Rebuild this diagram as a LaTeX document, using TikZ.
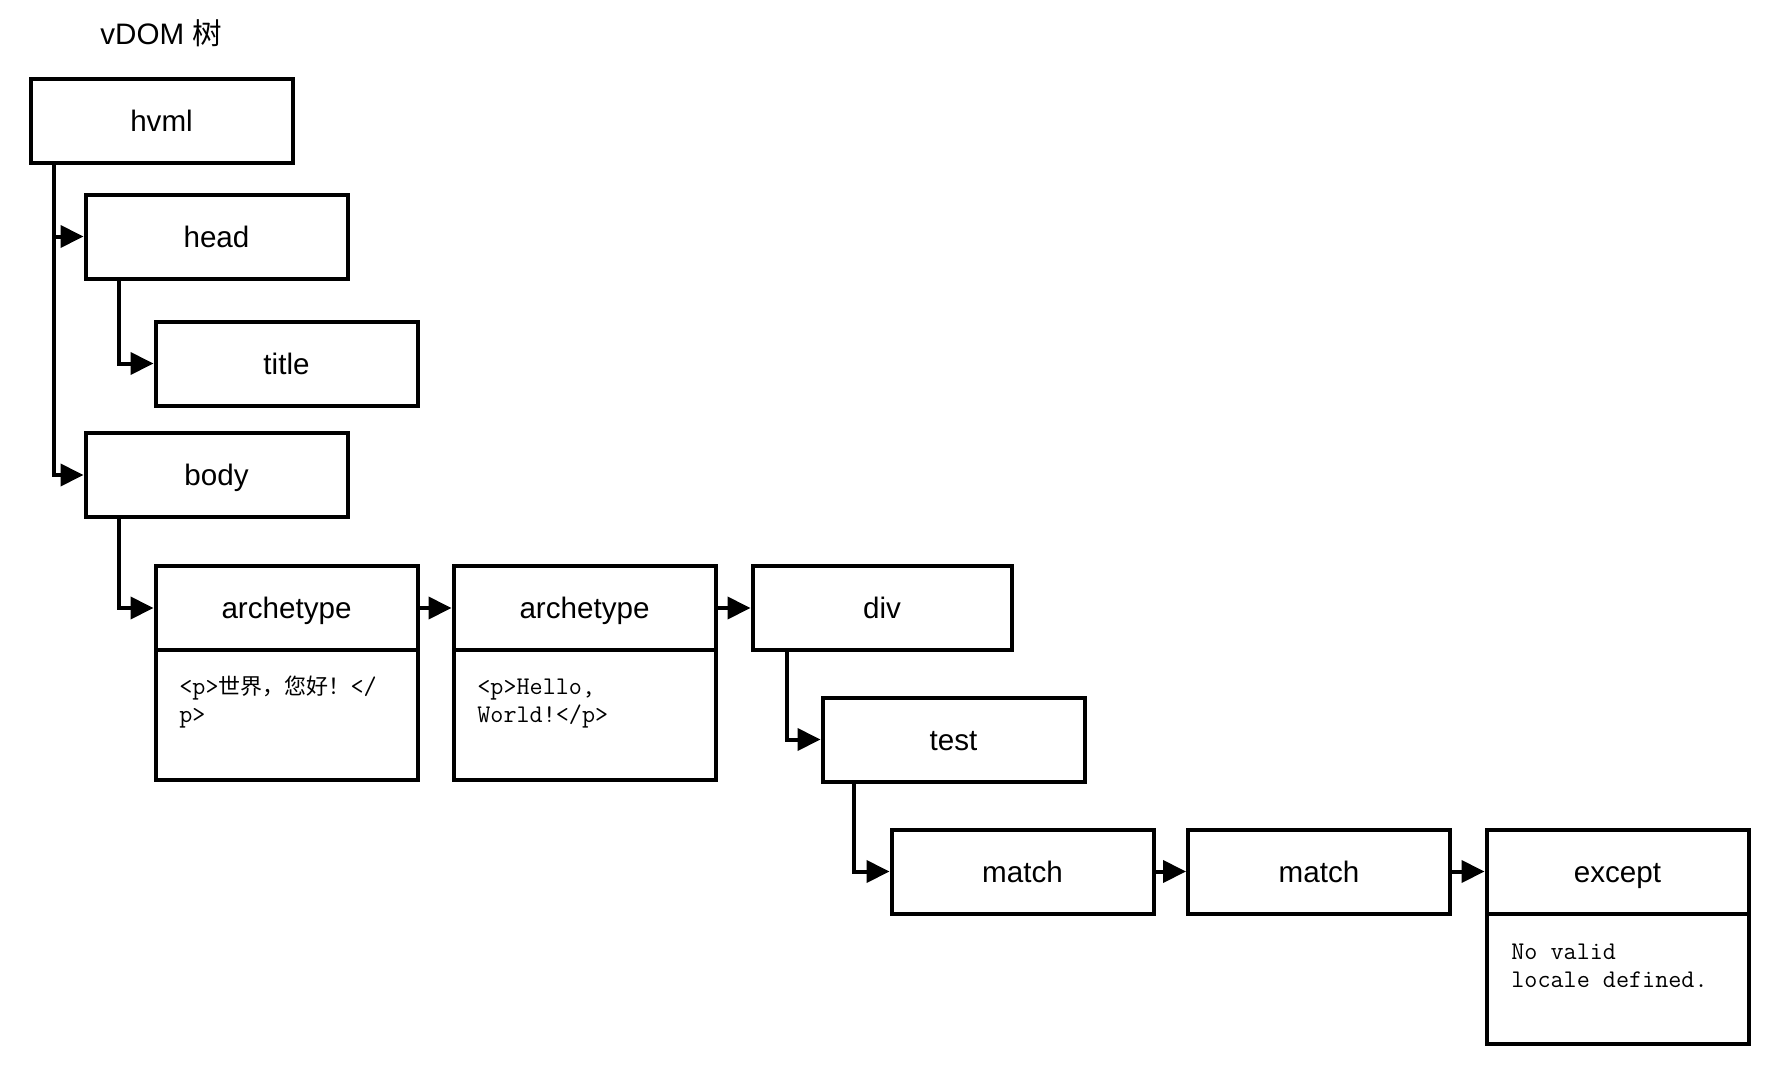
\documentclass[tikz,border=0pt]{standalone}
\usepackage{fontspec}
\setmainfont{Liberation Sans}
\newfontfamily\cjk{Noto Sans CJK SC}
\usetikzlibrary{arrows.meta,calc}
\begin{document}
\begin{tikzpicture}[x=0.5pt,y=-0.5pt,
  tbox/.style={draw, line width=2pt, minimum width=131pt, minimum height=42pt, inner sep=0pt, text height=10.7pt, text depth=0pt, font=\fontsize{14.8}{18}\selectfont},
  bodybox/.style={draw, line width=2pt, minimum width=131pt, minimum height=65pt, inner sep=0pt},
  codetxt/.style={anchor=base west, inner sep=0pt, font=\fontsize{12.7}{14}\selectfont\ttfamily},
  conn/.style={line width=2pt, -{Triangle[length=11.5pt,width=11pt]}}]
\fill[white] (0,0) rectangle (1788,1070);
\useasboundingbox (0,0) rectangle (1788,1070);

\node[anchor=west, inner sep=0pt, font=\fontsize{14.8}{18}\selectfont] (ttl) at (100,33) {vDOM {\cjk 树}};

\node[tbox] (hvml) at (161.5,121) {hvml};
\node[tbox] (head) at (216.5,236.5) {head};
\node[tbox] (title) at (286.5,363.5) {title};
\node[tbox] (body) at (216.5,475) {body};

\node[tbox] (arch1) at (286.5,608) {archetype};
\node[bodybox] (arch1c) at (286.5,715) {};
\node[tbox] (arch2) at (584.5,608) {archetype};
\node[bodybox] (arch2c) at (584.5,715) {};
\node[tbox, minimum width=129.5pt] (div) at (882,608) {div};
\node[tbox] (test) at (953.5,739.5) {test};
\node[tbox] (match1) at (1022.5,871.5) {match};
\node[tbox] (match2) at (1319,871.5) {match};
\node[tbox] (except) at (1617.5,871.5) {except};
\node[bodybox] (exceptc) at (1617.5,979) {};

\node[codetxt] (c1a) at (179,694) {<p>{\cjk\fontsize{11}{14}\selectfont 世界，您好！}</};
\node[codetxt] (c1b) at (179,722) {p>};
\node[codetxt] (c2a) at (477,694) {<p>Hello,};
\node[codetxt] (c2b) at (477,722) {World!</p>};
\node[codetxt] (c3a) at (1511,959) {No valid};
\node[codetxt] (c3b) at (1511,987) {locale defined.};

\draw[conn] ($(hvml.south west)+(25,0)$) |- (head.west);
\draw[conn] ($(hvml.south west)+(25,0)$) |- (body.west);
\draw[conn] ($(head.south west)+(35,0)$) |- (title.west);
\draw[conn] ($(body.south west)+(35,0)$) |- (arch1.west);
\draw[conn] (arch1.east) -- (arch2.west);
\draw[conn] (arch2.east) -- (div.west);
\draw[conn] ($(div.south west)+(36,0)$) |- (test.west);
\draw[conn] ($(test.south west)+(33,0)$) |- (match1.west);
\draw[conn] (match1.east) -- (match2.west);
\draw[conn] (match2.east) -- (except.west);
\end{tikzpicture}
\end{document}
